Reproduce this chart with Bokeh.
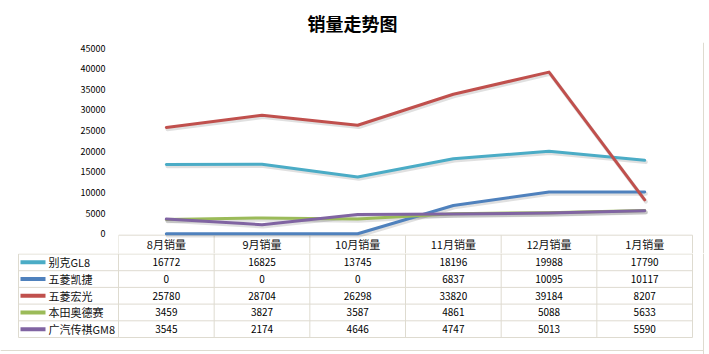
from bokeh.plotting import figure
from bokeh.layouts import column
from bokeh.models import Range1d, FixedTicker
from bokeh.core.properties import value
from bokeh.embed import file_html
from bokeh.resources import INLINE

# ---------------- data ----------------
categories = ["8月销量", "9月销量", "10月销量", "11月销量", "12月销量", "1月销量"]
series_names = ["别克GL8", "五菱凯捷", "五菱宏光", "本田奥德赛", "广汽传祺GM8"]
buick_gl8 = [16772, 16825, 13745, 18196, 19988, 17790]
wuling_kaijie = [0, 0, 0, 6837, 10095, 10117]
wuling_hongguang = [25780, 28704, 26298, 33820, 39184, 8207]
honda_odyssey = [3459, 3827, 3587, 4861, 5088, 5633]
gac_gm8 = [3545, 2174, 4646, 4747, 5013, 5590]
y_ticks = [0, 5000, 10000, 15000, 20000, 25000, 30000, 35000, 40000, 45000]
colors = ["#4bacc6", "#4f81bd", "#c0504d", "#9bbb59", "#8064a2"]
series_values = [buick_gl8, wuling_kaijie, wuling_hongguang, honda_odyssey, gac_gm8]

# ---------------- layout constants ----------------
W = 709
LEFT = 118          # left edge of the plot area / first category column
CW = 95.67          # width of one category column in px
CJK = "Noto Sans CJK SC"
BORDER = "#dedbd0"
TEXT = "#111111"


def u(px):
    """horizontal pixel -> category units (category i centred at i)"""
    return (px - LEFT) / CW - 0.5


# ---------------- line chart (with the table's header row) ----------------
TOP_H = 253
FRAME_TOP = 40
zero_px = 233.0
top_px = 45.7
upp = 45000 / (zero_px - top_px)             # value units per pixel
y_start = -(TOP_H - zero_px) * upp
y_end = 45000 + (top_px - FRAME_TOP) * upp


def val(px):
    """vertical pixel (in the chart figure) -> value units"""
    return (zero_px - px) * upp


p = figure(width=W, height=TOP_H,
           x_range=Range1d(-0.5, u(W)), y_range=Range1d(y_start, y_end),
           x_axis_location=None, y_axis_location="left",
           min_border_left=LEFT, min_border_right=0,
           min_border_top=FRAME_TOP, min_border_bottom=0,
           output_backend="svg", toolbar_location=None)
p.frame_align = False
p.outline_line_color = None
p.xgrid.visible = False
p.ygrid.visible = False
p.background_fill_color = "white"
p.border_fill_color = "white"

p.title.text = "销量走势图"
p.title.align = "left"
p.title.offset = 189
p.title.text_font = CJK
p.title.text_font_size = "18px"
p.title.text_font_style = "bold"
p.title.text_color = "#000000"
p.title.standoff = 14

ax = p.yaxis[0]
ax.ticker = FixedTicker(ticks=y_ticks)
ax.axis_line_color = None
ax.major_tick_line_color = None
ax.minor_tick_line_color = None
ax.major_label_standoff = 7
ax.major_label_text_font = CJK
ax.major_label_text_font_size = "9px"
ax.major_label_text_color = "#000000"

xs = list(range(len(categories)))

# header row of the data table (categories)
HEAD_TOP_PX = 234.5
p.segment(x0=[-0.5], y0=[val(HEAD_TOP_PX)], x1=[len(categories) - 0.5], y1=[val(HEAD_TOP_PX)],
          line_color=BORDER, line_width=1)
edges = [i - 0.5 for i in range(len(categories) + 1)]
p.segment(x0=edges, y0=[val(HEAD_TOP_PX)] * len(edges), x1=edges, y1=[y_start] * len(edges),
          line_color=BORDER, line_width=1)
p.text(x=xs, y=[val(243.6)] * len(categories), text=categories,
       text_align="center", text_baseline="middle", text_font=value(CJK),
       text_font_size="11px", text_color=TEXT)

# series lines (soft shadow first, then the lines)
for vals in series_values:
    shadow = [v - 1.8 * upp for v in vals]
    p.line([x + 0.012 for x in xs], shadow, line_color="#000000", line_alpha=0.12,
           line_width=4, line_join="round", line_cap="round")
for vals, col in zip(series_values, colors):
    p.line(xs, vals, line_color=col, line_width=3, line_join="round", line_cap="round")

# chart right border
p.segment(x0=[u(703)], y0=[y_start], x1=[u(703)], y1=[y_end], line_color=BORDER, line_width=1)

# ---------------- data table rows ----------------
TAB_H = 354 - TOP_H
t = figure(width=W, height=TAB_H,
           x_range=Range1d(u(0), u(W)), y_range=Range1d(TAB_H, 0),
           x_axis_location=None, y_axis_location=None,
           min_border=0, output_backend="svg", toolbar_location=None)
t.frame_align = False
t.outline_line_color = None
t.xgrid.visible = False
t.ygrid.visible = False
t.background_fill_color = "white"
t.border_fill_color = "white"

ROW_TOP = 0.5
ROW_H = 16.7
n = len(series_names)
table_bot = ROW_TOP + n * ROW_H
x_leg = u(18)
x_right = len(categories) - 0.5

# horizontal rules
hy = [ROW_TOP + k * ROW_H for k in range(n + 1)]
t.segment(x0=[x_leg] * (n + 1), y0=hy, x1=[x_right] * (n + 1), y1=hy,
          line_color=BORDER, line_width=1)
# vertical rules
vx = [x_leg] + edges
t.segment(x0=vx, y0=[ROW_TOP] + [0] * len(edges), x1=vx, y1=[table_bot] * len(vx),
          line_color=BORDER, line_width=1)

row_y = [ROW_TOP + ROW_H * (k + 0.5) for k in range(n)]
cell_x, cell_y, cell_t = [], [], []
for k, vals in enumerate(series_values):
    for i, v in enumerate(vals):
        cell_x.append(i)
        cell_y.append(row_y[k])
        cell_t.append(str(v))
t.text(x=cell_x, y=cell_y, text=cell_t, text_align="center", text_baseline="middle",
       text_font=value(CJK), text_font_size="10px", text_color="#000000")

# legend keys + series names
t.segment(x0=[u(20)] * n, y0=row_y, x1=[u(45)] * n, y1=row_y,
          line_color=colors, line_width=4)
t.text(x=[u(48)] * n, y=row_y, text=series_names, text_align="left",
       text_baseline="middle", text_font=value(CJK), text_font_size="11px", text_color=TEXT)

# chart border (right and bottom)
t.segment(x0=[u(703), u(0)], y0=[0, 97], x1=[u(703), u(703)], y1=[TAB_H, 97],
          line_color=BORDER, line_width=1)

layout = column(p, t, spacing=0)
open("out.html", "w").write(file_html(layout, INLINE))
